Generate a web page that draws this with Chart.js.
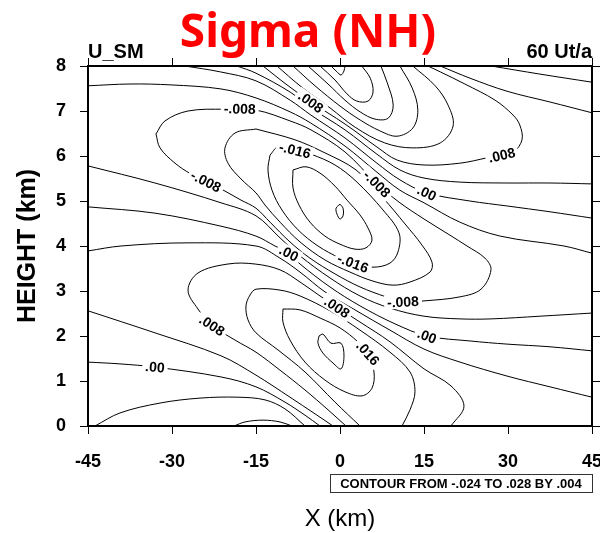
<!DOCTYPE html>
<html>
<head>
<meta charset="utf-8">
<script src="https://cdn.jsdelivr.net/npm/chart.js@4/dist/chart.umd.min.js"></script>
<style>
  html, body { margin: 0; background: #fff; }
</style>
</head>
<body>
<canvas id="sigma_chart" width="600" height="533"></canvas>
<script>
// contour lines, one array per piece: [x km, height km]
var topP028 = [[-1.6,8],[-0.54,7.87],[0.18,7.8],[0.71,7.89],[0.89,8]];
var topP024 = [[-3.57,8],[-0.9,7.69],[1.25,7.38],[3.0,7.22],[5.0,7.22],[5.9,7.42],[5.4,7.73],[3.9,8]];
var topP020 = [[-5.71,8],[-2.14,7.6],[0.9,7.24],[3.6,6.98],[6.25,6.82],[8.6,6.84],[9.5,7.13],[8.4,7.64],[7.3,8]];
var topP016 = [[-8.39,8],[-4.46,7.56],[0,7.11],[3.6,6.8],[7.1,6.56],[10.2,6.44],[13.0,6.62],[13.9,7.02],[12.9,7.51],[10.7,8]];
var topP012 = [[-11.25,8],[-7.14,7.56],[-1.79,7.07],[2.7,6.64],[8.0,6.29],[13.0,6.18],[17.9,6.29],[20.2,6.67],[19.3,7.13],[17.0,7.56],[13.0,8]];
var topP008 = [[-13.75,8],[-9.46,7.58],[-5.18,7.2],[0.9,6.71],[6.6,6.2],[10.2,5.91],[15.0,5.8],[21.4,5.84],[26.25,5.96],[30.9,6.09],[32.5,6.36],[32.1,6.69],[30.9,6.91],[27.7,7.24],[22.3,7.6],[17.9,7.87],[15.7,8]];
var topP004 = [[17.9,8],[23.2,7.73],[29.8,7.44],[37.5,7.2],[45,6.96]];
var topZero = [[27.0,8],[35.7,7.82],[45,7.64]];
var bandP004 = [[-18.4,8],[-15,7.84],[-8.9,7.42],[-5.2,7.07],[0.9,6.58],[6.6,6.04],[10.7,5.69],[15,5.51],[21.4,5.42],[29.8,5.4],[37.5,5.4],[45,5.38]];
var bandZero = [[-27.7,8],[-21.4,7.87],[-15,7.67],[-8.9,7.24],[-5.2,6.91],[0.9,6.4],[6.6,5.84],[10.7,5.47],[15.5,5.18],[23.2,5.0],[29.8,4.89],[37.5,4.76],[45,4.62]];
var bandN004 = [[-45,7.56],[-37.5,7.6],[-30.2,7.58],[-21.25,7.49],[-15,7.29],[-8.9,6.98],[-5.2,6.73],[0.9,6.22],[6.6,5.64],[10.7,5.24],[15,4.96],[21.4,4.53],[28.6,4.22],[40,4.0],[45,3.84]];
var loopN008 = [[-32.86,6.49],[-31.25,6.78],[-27.14,7.0],[-20.54,7.04],[-15,7.02],[-8.93,6.78],[-5.18,6.58],[0.89,6.09],[6.61,5.38],[10.71,4.96],[15,4.6],[19.64,4.24],[22.68,4.0],[25.89,3.73],[26.96,3.47],[25.18,3.04],[21.43,2.87],[15,2.78],[11.25,2.76],[8.21,2.87],[3.57,3.09],[-0.89,3.38],[-5.36,3.73],[-8.93,4.09],[-12.5,4.53],[-15,4.84],[-17.68,5.02],[-21.25,5.27],[-23.93,5.44],[-26.61,5.6],[-29.46,5.84],[-32.14,6.18],[-32.86,6.49]];
var loopN012 = [[-15,6.6],[-8.04,6.36],[-3.04,6.09],[2.86,5.69],[7.68,5.07],[11.61,4.49],[14.64,4.02],[16.43,3.64],[16.07,3.42],[12.5,3.2],[9.46,3.13],[5.89,3.22],[1.79,3.42],[-2.68,3.69],[-7.14,4.09],[-10.71,4.53],[-13.39,4.91],[-15,5.18],[-17.68,5.49],[-20,5.84],[-20.54,6.18],[-18.75,6.51],[-15,6.6]];
var loopN016 = [[-12.5,6.02],[-12.86,5.69],[-12.14,5.24],[-10.36,4.8],[-7.5,4.36],[-3.93,4.0],[0,3.73],[2.32,3.62],[5.89,3.53],[8.93,3.62],[10.36,3.87],[10.54,4.29],[7.68,4.8],[2.86,5.44],[-0.89,5.8],[-5.18,6.04],[-8.04,6.13],[-11.07,6.2],[-12.5,6.02]];
var loopN020 = [[-8.39,5.69],[-6.07,5.76],[-3.57,5.62],[-0.89,5.33],[1.25,5.02],[3.57,4.69],[5.0,4.4],[5.71,4.13],[4.64,3.96],[2.68,3.93],[0,4.04],[-2.68,4.22],[-5.36,4.53],[-7.32,4.91],[-8.39,5.29],[-8.39,5.69]];
var loopN024 = [[0,4.93],[0.54,4.84],[0.54,4.67],[0,4.6],[-0.54,4.71],[-0.7,4.84],[0,4.93]];
var lowN004 = [[-45,5.78],[-33.04,5.4],[-21.25,4.96],[-15,4.67],[-10.71,4.18],[-7.14,3.78],[-1.79,3.29],[3.57,2.89],[8.93,2.62],[15,2.44],[21.43,2.38],[26.96,2.38],[35.71,2.44],[45,2.51]];
var lowZero = [[-45,4.87],[-33.04,4.73],[-21.25,4.44],[-15,4.22],[-11.61,4.0],[-9.11,3.84],[-7.14,3.6],[-1.79,3.09],[3.57,2.67],[9.82,2.27],[15.54,2.0],[23.21,1.89],[29.82,1.82],[37.5,1.76],[45,1.67]];
var lowP004 = [[-45,3.89],[-39.11,4.0],[-27.14,4.07],[-15,4.0],[-10.71,3.73],[-7.14,3.42],[-2.68,2.98],[2.68,2.58],[8.93,2.13],[15,1.71],[21.43,1.42],[29.82,1.11],[37.5,0.87],[45,0.64]];
var lobeP008 = [[1.07,0],[-2.14,0.36],[-6.25,0.8],[-10.71,1.24],[-15,1.64],[-18.75,1.91],[-22.86,2.24],[-25.36,2.6],[-27.14,3.02],[-25.36,3.4],[-20,3.6],[-15.18,3.6],[-10.71,3.47],[-7.14,3.2],[-3.57,2.89],[-0.54,2.64],[3.57,2.31],[8.93,1.87],[15,1.27],[19.82,0.89],[22.14,0.44],[19.82,0]];
var lobeP012 = [[3.57,0],[-0.89,0.53],[-6.25,1.2],[-11.07,1.69],[-15,2.07],[-16.43,2.36],[-16.79,2.67],[-16.07,2.91],[-15,3.04],[-10.71,3.02],[-7.14,2.89],[-1.79,2.56],[3.57,2.13],[8.93,1.64],[12.5,1.2],[13.39,0.76],[12.5,0.36],[11.07,0]];
var lobeP016 = [[-10.18,2.6],[-7.14,2.58],[-3.57,2.4],[0,2.18],[3.21,1.87],[5.0,1.62],[6.07,1.2],[5.71,0.84],[3.93,0.67],[0.89,0.76],[-2.68,1.02],[-6.25,1.42],[-8.93,1.91],[-10.18,2.31],[-10.18,2.6]];
var lobeP020 = [[-3.75,2.0],[-3.04,2.04],[-1.61,1.84],[0.18,1.84],[0.71,1.56],[0.18,1.27],[-1.25,1.4],[-3.04,1.62],[-3.93,1.84],[-3.75,2.0]];
var edgeP004 = [[-45,2.56],[-33.04,2.07],[-21.25,1.56],[-15,1.13],[-8.93,0.64],[-4.46,0.27],[-1.25,0]];
var edgeZero = [[-45,1.42],[-39.29,1.38],[-33.04,1.31],[-21.25,1.09],[-15,0.87],[-9.82,0.53],[-6.25,0.24],[-3.57,0]];
var baseN004 = [[-43.75,0],[-39.29,0.29],[-32.14,0.51],[-25,0.62],[-18.21,0.64],[-13.39,0.58],[-9.82,0.38],[-6.25,0]];
var baseN008 = [[-18.93,0],[-16.96,0.09],[-13.75,0.13],[-10.71,0.09],[-8.57,0]];

var contours = [topP028, topP024, topP020, topP016, topP012, topP008, topP004, topZero,
                bandP004, bandZero, bandN004, loopN008, loopN012, loopN016, loopN020, loopN024,
                lowN004, lowZero, lowP004, lobeP008, lobeP012, lobeP016, lobeP020,
                edgeP004, edgeZero, baseN004, baseN008];

// contour labels: text, line it sits on, x km, height km
var lineLabels = [
    ['-.008', loopN008, -17.9, 7.05],
    ['.008',  topP008,  -5.2, 7.2],
    ['-.016', loopN016, -8.04, 6.13],
    ['-.008', loopN008, -23.93, 5.44],
    ['-.008', loopN008, 6.6, 5.38],
    ['.00',   bandZero, 15.5, 5.18],
    ['.008',  topP008,  28.9, 6.02],
    ['.00',   lowZero,  -9.11, 3.84],
    ['-.016', loopN016, 2.32, 3.62],
    ['-.008', loopN008, 11.25, 2.76],
    ['.008',  lobeP008, -0.54, 2.64],
    ['.00',   lowZero,  15.54, 2.0],
    ['.008',  lobeP008, -22.86, 2.24],
    ['.016',  lobeP016, 5.0, 1.62],
    ['.00',   edgeZero, -33.04, 1.31]
];

var xTicks = [-45, 45, 15];   // min, max, step
var yTicks = [0, 8, 1];

const textPlugin = {
    id: 'textPlugin',
    beforeDraw(chart) {
        const ctx = chart.ctx;
        ctx.save();
        ctx.fillStyle = '#fff';
        ctx.fillRect(0, 0, chart.width, chart.height);
        ctx.restore();
    },
    afterDatasetsDraw(chart) {
        const ctx = chart.ctx, xs = chart.scales.x, ys = chart.scales.y;
        ctx.save();
        ctx.font = 'bold 14px "Liberation Sans", Arial, sans-serif';
        ctx.textAlign = 'center';
        ctx.textBaseline = 'middle';
        lineLabels.forEach(function (lab) {
            const px = xs.getPixelForValue(lab[2]), py = ys.getPixelForValue(lab[3]);
            const line = lab[1];
            let best = 1e9, ang = 0;
            for (let i = 0; i < line.length - 1; i++) {
                const ax = xs.getPixelForValue(line[i][0]), ay = ys.getPixelForValue(line[i][1]);
                const bx = xs.getPixelForValue(line[i+1][0]), by = ys.getPixelForValue(line[i+1][1]);
                const dx = bx - ax, dy = by - ay;
                let t = ((px - ax) * dx + (py - ay) * dy) / (dx * dx + dy * dy || 1);
                t = Math.max(0, Math.min(1, t));
                const d = Math.hypot(ax + t * dx - px, ay + t * dy - py);
                if (d < best) { best = d; ang = Math.atan2(dy, dx); }
            }
            if (ang > Math.PI / 2) ang -= Math.PI;
            if (ang < -Math.PI / 2) ang += Math.PI;
            const w = ctx.measureText(lab[0]).width;
            ctx.save();
            ctx.translate(px, py);
            ctx.rotate(ang);
            ctx.fillStyle = '#fff';
            ctx.fillRect(-w / 2 - 3, -7, w + 6, 14);
            ctx.fillStyle = '#000';
            ctx.fillText(lab[0], 0, 1);
            ctx.restore();
        });
        ctx.restore();
    },
    afterDraw(chart) {
        const ctx = chart.ctx, a = chart.chartArea;
        ctx.save();
        ctx.fillStyle = '#ff0000';
        ctx.font = 'bold 46px "Noto Sans", sans-serif';
        ctx.textAlign = 'center';
        ctx.textBaseline = 'alphabetic';
        ctx.fillText('Sigma (NH)', 308, 47);

        ctx.fillStyle = '#000';
        ctx.font = 'bold 20px "Liberation Sans", Arial, sans-serif';
        ctx.textAlign = 'left';
        ctx.fillText('U_SM', a.left, 58);
        ctx.textAlign = 'right';
        ctx.fillText('60 Ut/a', a.right, 58);

        ctx.textAlign = 'center';
        ctx.font = '24px "Liberation Sans", Arial, sans-serif';
        ctx.fillText('X (km)', (a.left + a.right) / 2, 526);

        ctx.save();
        ctx.translate(35, (a.top + a.bottom) / 2);
        ctx.rotate(-Math.PI / 2);
        ctx.font = 'bold 25px "Liberation Sans", Arial, sans-serif';
        ctx.fillText('HEIGHT (km)', 0, 0);
        ctx.restore();

        // contour info box
        const txt = 'CONTOUR FROM -.024 TO .028 BY .004';
        ctx.font = 'bold 13px "Liberation Sans", Arial, sans-serif';
        const bx = 330, bw = a.right - 330, by = 474, bh = 18;
        ctx.fillStyle = '#fff';
        ctx.fillRect(bx, by, bw, bh);
        ctx.strokeStyle = '#333';
        ctx.lineWidth = 1;
        ctx.strokeRect(bx + 0.5, by + 0.5, bw, bh);
        const tw = ctx.measureText(txt).width;
        ctx.fillStyle = '#000';
        ctx.save();
        ctx.translate(bx + bw / 2, by + bh / 2 + 1);
        ctx.scale(Math.min(1, (bw - 6) / tw), 1);
        ctx.textBaseline = 'middle';
        ctx.fillText(txt, 0, 0);
        ctx.restore();
        ctx.restore();
    }
};

const tickFont = { family: '"Liberation Sans", Arial, sans-serif', size: 18, weight: 'bold' };
const frameGrid = { drawOnChartArea: false, drawTicks: true, tickLength: 8, color: '#000', tickWidth: 1 };
const frameBorder = { color: '#000', width: 2 };

function fixBox(w, h) {
    return function (s) {
        if (w !== null) s.width = w;
        if (h !== null) s.height = h;
        s.paddingLeft = 0; s.paddingRight = 0; s.paddingTop = 0; s.paddingBottom = 0;
    };
}

const datasets = contours.map(function (c) {
    return {
        data: c.map(function (p) { return { x: p[0], y: p[1] }; }),
        showLine: true,
        borderColor: '#000',
        borderWidth: 1,
        pointRadius: 0,
        tension: 0.35,
        fill: false
    };
});

const config = {
    type: 'scatter',
    data: { datasets: datasets },
    options: {
        responsive: false,
        animation: false,
        devicePixelRatio: 1,
        layout: { padding: 0 },
        plugins: { legend: { display: false }, tooltip: { enabled: false }, title: { display: false } },
        scales: {
            x: {
                type: 'linear', position: 'bottom', min: xTicks[0], max: xTicks[1],
                ticks: { stepSize: xTicks[2], color: '#000', font: tickFont, padding: 17, maxRotation: 0, autoSkip: false },
                grid: frameGrid, border: frameBorder,
                afterFit: fixBox(null, 107)
            },
            x2: {
                type: 'linear', position: 'top', min: xTicks[0], max: xTicks[1],
                ticks: { stepSize: xTicks[2], display: false },
                grid: frameGrid, border: frameBorder,
                afterFit: fixBox(null, 66)
            },
            y: {
                type: 'linear', position: 'left', min: yTicks[0], max: yTicks[1],
                ticks: { stepSize: yTicks[2], color: '#000', font: tickFont, padding: 14 },
                grid: frameGrid, border: frameBorder,
                afterFit: fixBox(88, null)
            },
            y2: {
                type: 'linear', position: 'right', min: yTicks[0], max: yTicks[1],
                ticks: { stepSize: yTicks[2], display: false },
                grid: frameGrid, border: frameBorder,
                afterFit: fixBox(8, null)
            }
        }
    },
    plugins: [textPlugin]
};

var myChart = new Chart(document.getElementById('sigma_chart'), config);
</script>
</body>
</html>
